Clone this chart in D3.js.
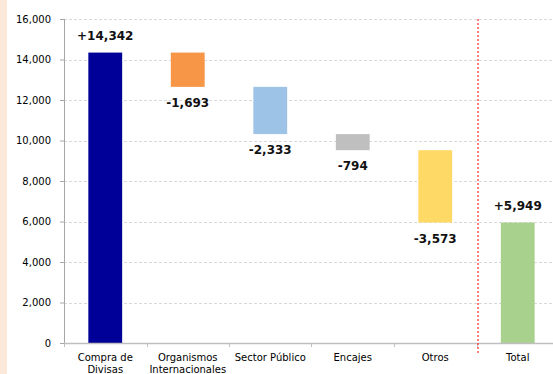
<!DOCTYPE html>
<html>
<head>
<meta charset="utf-8">
<script src="https://cdn.jsdelivr.net/npm/d3@7"></script>
<style>
  body { margin: 0; background: #fff; }
  svg { display: block; }
</style>
</head>
<body>
<svg></svg>
<script>
var screen = {width: 553, height: 374}
var margins = {top: 19, right: -6, bottom: 31, left: 64}

var categories = ["Compra de\nDivisas", "Organismos\nInternacionales", "Sector Público", "Encajes", "Otros", "Total"]
var changes = [14342, -1693, -2333, -794, -3573, 5949]
var colors = ["#000099", "#f79646", "#9dc3e6", "#bfbfbf", "#ffd966", "#a9d18e"]
var yTicks = [0, 2000, 4000, 6000, 8000, 10000, 12000, 14000, 16000]

var svg = d3.select("svg")
    .attr("width", screen.width)
    .attr("height", screen.height)

// peach strip on the left edge
svg.append("rect")
    .attr("x", 0).attr("y", 0)
    .attr("width", 7).attr("height", screen.height)
    .attr("fill", "#fde9d9")

var width = screen.width - margins.left - margins.right
var height = screen.height - margins.top - margins.bottom

// build the waterfall steps (last one is the total)
var steps = []
var running = 0
changes.forEach(function(v, i) {
    if (i == changes.length - 1) {
        steps.push({cat: categories[i], v: v, lo: 0, hi: v, color: colors[i]})
    } else {
        var start = running
        running += v
        steps.push({cat: categories[i], v: v, lo: Math.min(start, running), hi: Math.max(start, running), color: colors[i]})
    }
})

var xScale = d3.scaleBand()
    .domain(categories)
    .range([0, width])
    .paddingInner(0.59)
    .paddingOuter(0.295)

var yScale = d3.scaleLinear()
    .domain([0, 16000])
    .range([height, 0])

var g = svg.append("g")
    .attr("transform", "translate(" + margins.left + "," + margins.top + ")")

// gridlines
g.append("g")
    .selectAll("line")
    .data(yTicks.filter(function(t) { return t > 0 }))
    .enter()
    .append("line")
    .attr("x1", 0)
    .attr("x2", screen.width)
    .attr("y1", function(t) { return Math.round(yScale(t)) + 0.5 })
    .attr("y2", function(t) { return Math.round(yScale(t)) + 0.5 })
    .attr("stroke", "#d9d9d9")
    .attr("stroke-dasharray", "3,2")

// bars
g.selectAll(".bar")
    .data(steps)
    .enter()
    .append("rect")
    .attr("class", "bar")
    .attr("x", function(d) { return xScale(d.cat) })
    .attr("width", xScale.bandwidth())
    .attr("y", function(d) { return yScale(d.hi) })
    .attr("height", function(d) { return yScale(d.lo) - yScale(d.hi) })
    .attr("fill", function(d) { return d.color })

// value labels
var fmt = d3.format(",")
g.selectAll(".val")
    .data(steps)
    .enter()
    .append("text")
    .attr("class", "val")
    .attr("x", function(d) { return xScale(d.cat) + xScale.bandwidth() / 2 })
    .attr("y", function(d) {
        return d.v > 0 ? yScale(d.hi) - 13 : yScale(d.lo) + 20
    })
    .attr("text-anchor", "middle")
    .style("font-family", "DejaVu Sans, sans-serif")
    .style("font-weight", "bold")
    .style("font-size", "12px")
    .attr("fill", "#111")
    .text(function(d) { return (d.v > 0 ? "+" : "-") + fmt(Math.abs(d.v)) })

// y axis
var yAxis = d3.axisLeft(yScale)
    .tickValues(yTicks)
    .tickFormat(d3.format(","))
    .tickSize(4)
    .tickPadding(9)

var yG = g.append("g").call(yAxis)
yG.select(".domain").attr("stroke", "#a6a6a6").attr("d", "M0.5," + height + "V0")
yG.selectAll(".tick line").attr("stroke", "#a6a6a6")
yG.selectAll("text")
    .style("font-family", "DejaVu Sans, sans-serif")
    .style("font-size", "10px")
    .attr("fill", "#000")

// x axis line and ticks at band edges
var xG = g.append("g").attr("transform", "translate(0," + height + ")")
xG.append("line")
    .attr("x1", 0).attr("x2", screen.width)
    .attr("y1", 0.5).attr("y2", 0.5)
    .attr("stroke", "#bfbfbf")
    .attr("stroke-width", 1.5)
xG.selectAll(".xtick")
    .data(categories)
    .enter()
    .append("line")
    .attr("x1", function(c) { return Math.round(xScale(c) - xScale.step() * 0.295) + 0.5 })
    .attr("x2", function(c) { return Math.round(xScale(c) - xScale.step() * 0.295) + 0.5 })
    .attr("y1", 0).attr("y2", 4)
    .attr("stroke", "#bfbfbf")

// category labels
var labels = xG.selectAll(".cat")
    .data(categories)
    .enter()
    .append("text")
    .attr("class", "cat")
    .attr("text-anchor", "middle")
    .attr("transform", function(c) { return "translate(" + (xScale(c) + xScale.bandwidth() / 2) + ",18)" })
    .style("font-family", "DejaVu Sans, sans-serif")
    .style("font-size", "10px")
    .attr("fill", "#000")

labels.selectAll("tspan")
    .data(function(c) { return c.split("\n") })
    .enter()
    .append("tspan")
    .attr("x", 0)
    .attr("dy", function(s, i) { return i == 0 ? 0 : 12 })
    .text(function(s) { return s })

// red dashed separator before Total
var sepX = Math.round(xScale("Total") - xScale.step() * 0.295) + 1
g.append("line")
    .attr("x1", sepX).attr("x2", sepX)
    .attr("y1", 0).attr("y2", height + 12)
    .attr("stroke", "#ff2a2a")
    .attr("stroke-width", 1.2)
    .attr("stroke-dasharray", "2,2")
</script>
</body>
</html>
